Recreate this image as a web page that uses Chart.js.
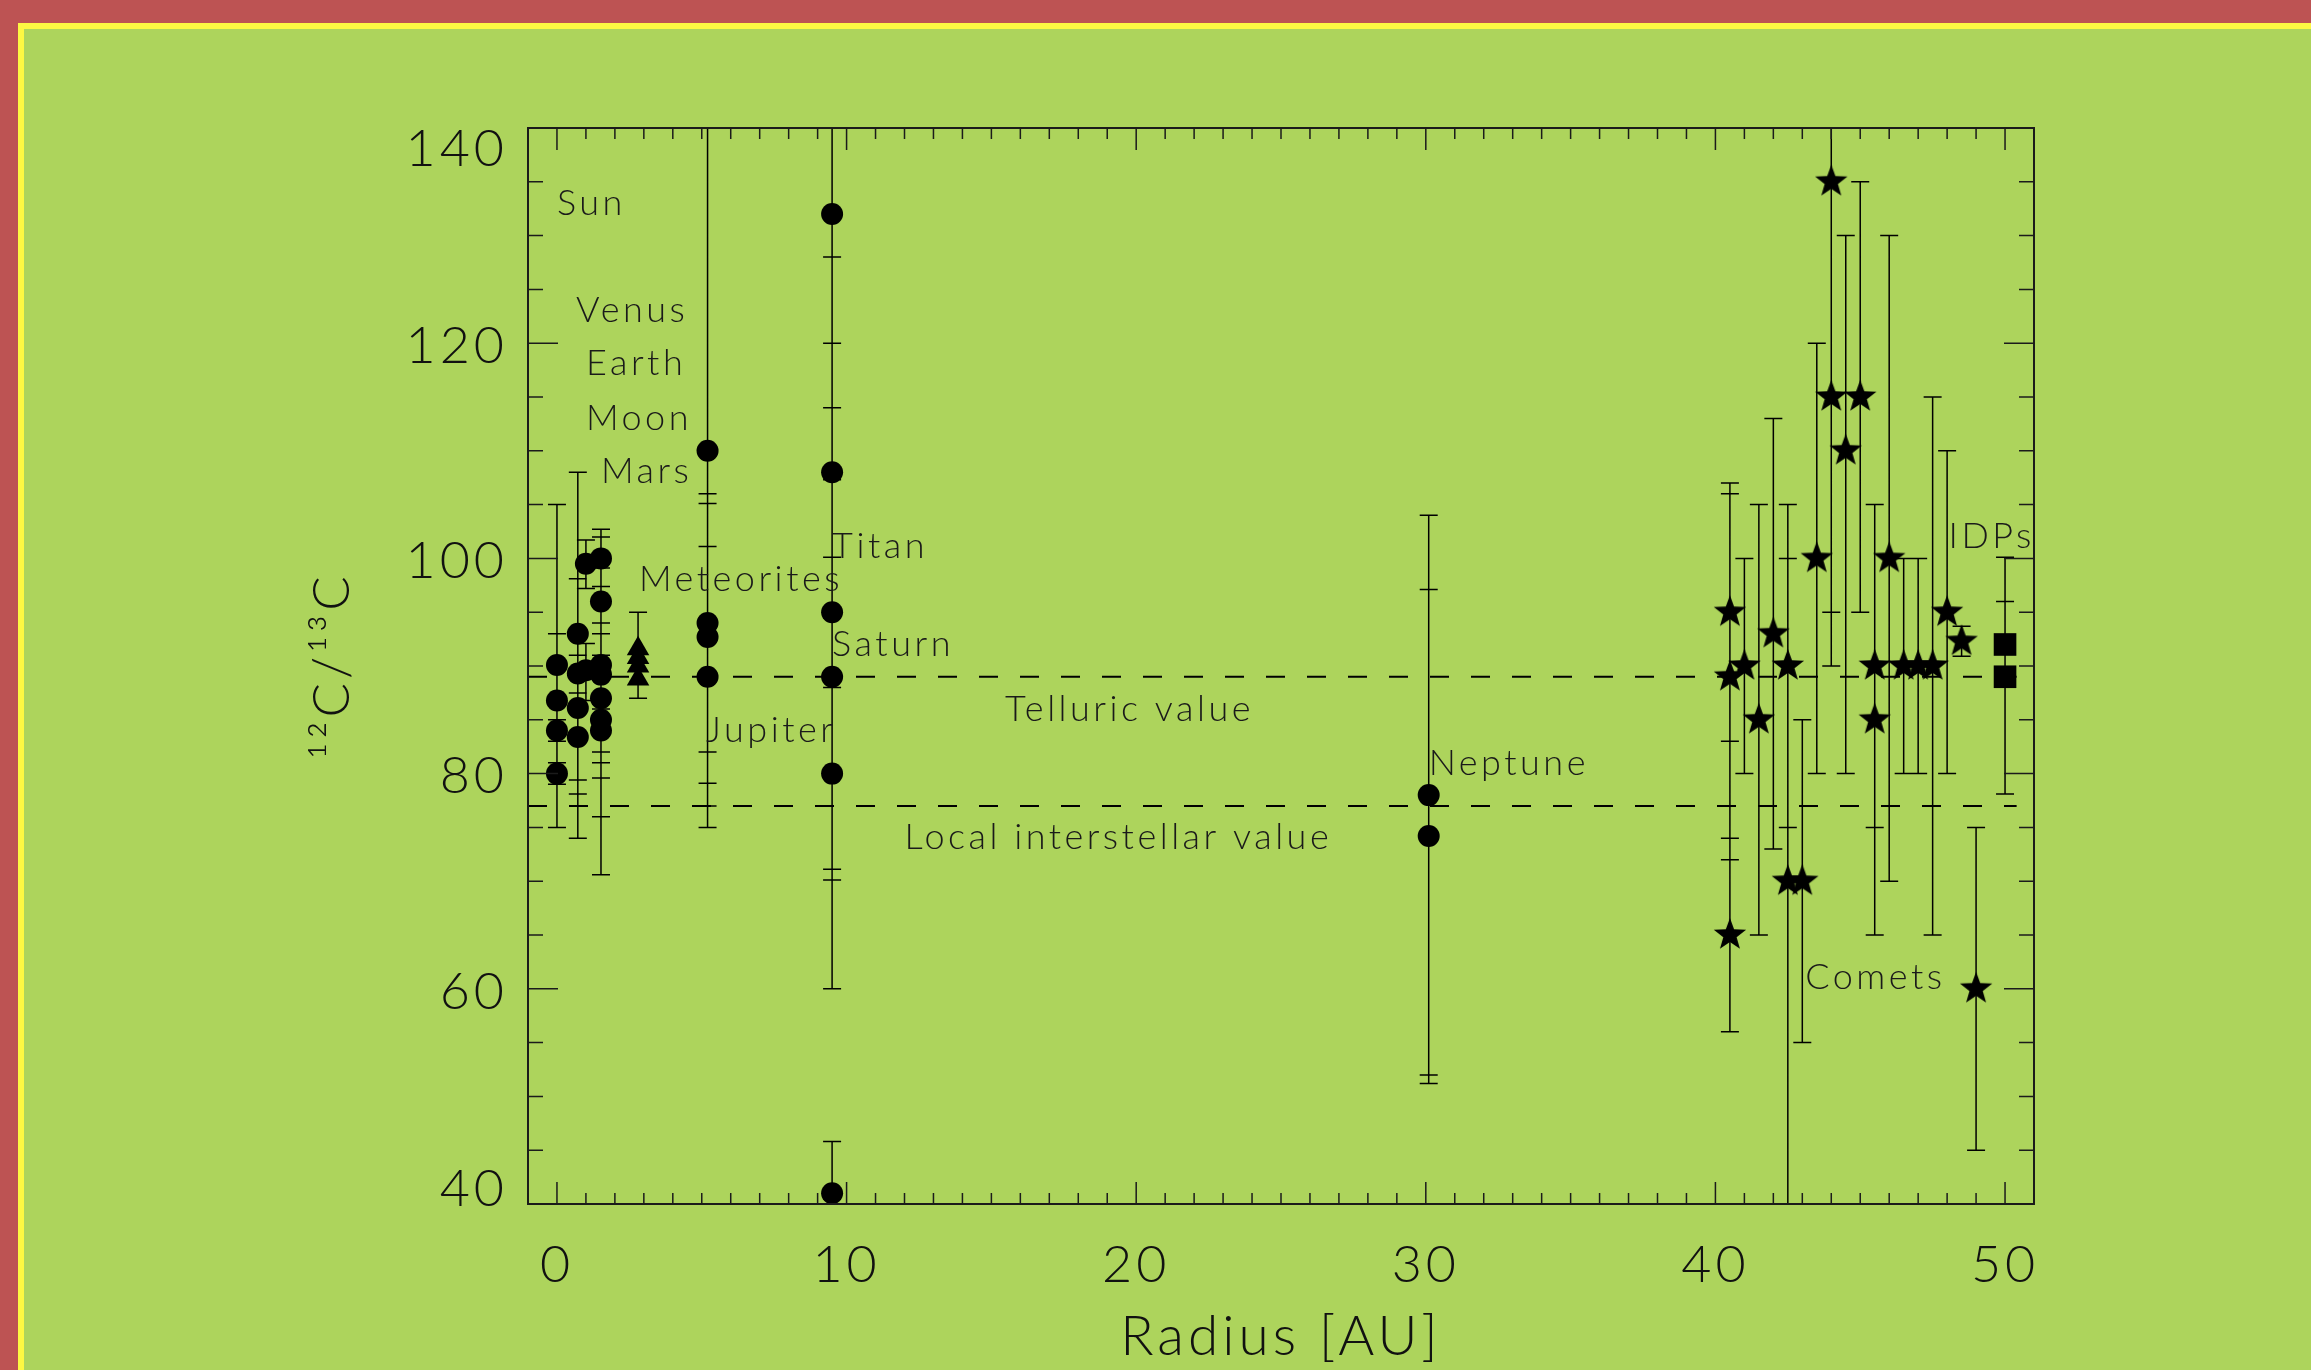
<!DOCTYPE html>
<html>
<head>
<meta charset="utf-8">
<script src="https://cdn.jsdelivr.net/npm/chart.js@4.4.1/dist/chart.umd.min.js"></script>
<style>
    html, body { margin: 0; padding: 0; }
    body { width: 2311px; height: 1370px; overflow: hidden; background: #bd5353; position: relative; }
    #panel { position: absolute; left: 18px; top: 23px; width: 2400px; height: 1500px; background: #add45c; border: 6px solid #fdf843; box-sizing: border-box; }
    #chart { position: absolute; left: 0; top: 0; }
</style>
</head>
<body>
<div id="panel"></div>
<canvas id="chart" width="2311" height="1370"></canvas>
<script>
// solar system bodies (circles): radius [AU], ratio, error low / high
const planetX = [0, 0, 0, 0, 0.72, 0.72, 0.72, 0.72, 1.0, 1.0,
    1.52, 1.52, 1.52, 1.52, 1.52, 1.52, 1.52,
    5.2, 5.2, 5.2, 5.2, 9.5, 9.5, 9.5, 9.5, 9.5, 9.5, 30.1, 30.1]
const planetY = [90.1, 86.8, 84.0, 80.0, 93.0, 89.3, 86.1, 83.4, 99.5, 89.6,
    100.0, 96.0, 90.1, 89.2, 87.0, 85.0, 84.0,
    110, 94.0, 92.7, 89.0, 132, 108, 95, 89, 80, 41, 78.0, 74.2]
const planetLo = [75, 81, 83, 79, 78.1, 79.4, 74.0, 79.4, 97.2, 86.8,
    97.4, 94.0, 79.6, 70.6, 81.0, 76.0, 82.0,
    75, 82.0, 79.1, 77.0, 120, 88, 70.1, 71.1, 60, 36, 52.0, 51.2]
const planetHi = [105, 93, 85, 81, 108, 98.1, 91.0, 87.5, 101.7, 92.1,
    102.7, 99.1, 102.0, 91.0, 93.0, 90.0, 86.0,
    145, 106.0, 105.1, 101.1, 145, 128, 114, 107.3, 100.1, 45.8, 104.0, 97.1]

// meteorites (triangles)
const meteoriteX = [2.8, 2.8, 2.8, 2.8]
const meteoriteY = [91.6, 90.8, 90.0, 88.8]
const meteoriteLo = [null, 87, null, null]
const meteoriteHi = [null, 95, null, null]

// comets (stars)
const cometX = [40.5, 40.5, 40.5, 41.0, 41.5, 42.0, 42.5, 42.5, 43.0, 43.5, 44.0, 44.0,
    44.5, 45.0, 45.5, 45.5, 46.0, 46.5, 47.0, 47.5, 48.0, 48.5, 49.0]
const cometY = [95, 89, 65, 90, 85, 93, 90, 70, 70, 100, 135, 115,
    110, 115, 90, 85, 100, 90, 90, 90, 95, 92.3, 60]
const cometLo = [83, 72, 56, 80, 65, 73, 75, 40, 55, 80, 95, 90,
    80, 95, 75, 65, 70, 80, 80, 65, 80, 90.9, 45]
const cometHi = [107, 106, 74, 100, 105, 113, 105, 100, 85, 120, 175, 140,
    130, 135, 105, 105, 130, 100, 100, 115, 110, 93.7, 75]

// interplanetary dust particles (squares)
const idpX = [50.0, 50.0]
const idpY = [92.0, 89.0]
const idpLo = [78.1, 88.5]
const idpHi = [100.1, 96.0]

// reference values
const telluricValue = 89
const interstellarValue = 77

// text labels inside the frame
const noteText = ['Sun', 'Venus', 'Earth', 'Moon', 'Mars', 'Meteorites', 'Jupiter', 'Titan', 'Saturn',
    'Telluric value', 'Local interstellar value', 'Neptune', 'IDPs', 'Comets']
const noteX = [0.0, 0.66, 1.0, 1.0, 1.52, 2.83, 5.15, 9.5, 9.5, 15.47, 12.0, 30.1, 48.05, 43.1]
const noteY = [131.9, 122, 117, 111.9, 107, 97, 82.9, 100, 90.9, 84.9, 73, 79.9, 101, 60]

const FONT = 'Lato'
const ink = '#111'

const toPoints = (xs, ys) => xs.map((x, i) => ({x, y: ys[i]}))

function makeStar(outer, inner) {
    const c = document.createElement('canvas')
    const size = Math.ceil(outer * 2 + 2)
    c.width = c.height = size
    const g = c.getContext('2d')
    g.translate(size / 2, size / 2)
    g.beginPath()
    for (let i = 0; i < 10; i++) {
        const r = i % 2 ? inner : outer
        const a = -Math.PI / 2 + i * Math.PI / 5
        g.lineTo(r * Math.cos(a), r * Math.sin(a))
    }
    g.closePath()
    g.fillStyle = '#000'
    g.fill()
    return c
}

const errorGroups = [
    {x: planetX, lo: planetLo, hi: planetHi},
    {x: meteoriteX, lo: meteoriteLo, hi: meteoriteHi},
    {x: cometX, lo: cometLo, hi: cometHi},
    {x: idpX, lo: idpLo, hi: idpHi},
]

// wider tracking, like the vector font of the original
const spacing = {
    id: 'letter-spacing',
    beforeUpdate(chart) { chart.ctx.letterSpacing = '4px' },
    beforeDraw(chart) { chart.ctx.letterSpacing = '4px' },
}

const errorBars = {
    id: 'error-bars',
    beforeDatasetsDraw(chart) {
        const {ctx, chartArea: a, scales: {x, y}} = chart
        ctx.save()
        ctx.beginPath()
        ctx.rect(a.left, a.top, a.width, a.height)
        ctx.clip()
        ctx.strokeStyle = '#000'
        ctx.lineWidth = 1.5
        ctx.beginPath()
        errorGroups.forEach(g => g.x.forEach((xv, i) => {
            if (g.lo[i] == null) return
            const px = x.getPixelForValue(xv)
            const top = y.getPixelForValue(g.hi[i])
            const bot = y.getPixelForValue(g.lo[i])
            ctx.moveTo(px, top); ctx.lineTo(px, bot)
            ctx.moveTo(px - 9, top); ctx.lineTo(px + 9, top)
            ctx.moveTo(px - 9, bot); ctx.lineTo(px + 9, bot)
        }))
        ctx.stroke()
        ctx.restore()
    },
}

const frame = {
    id: 'frame',
    afterDatasetsDraw(chart) {
        const {ctx, chartArea: a, scales: {x, y}} = chart
        ctx.save()
        ctx.strokeStyle = '#1b1b1b'
        ctx.lineWidth = 2
        ctx.strokeRect(a.left, a.top, a.width, a.height)
        ctx.lineWidth = 1.5
        ctx.beginPath()
        for (let v = Math.ceil(x.min); v <= x.max; v++) {
            const len = v % 10 === 0 ? 22 : 11
            const px = x.getPixelForValue(v)
            ctx.moveTo(px, a.bottom); ctx.lineTo(px, a.bottom - len)
            ctx.moveTo(px, a.top); ctx.lineTo(px, a.top + len)
        }
        for (let v = y.min; v <= y.max; v += 5) {
            const len = v % 20 === 0 ? 30 : 15
            const py = y.getPixelForValue(v)
            ctx.moveTo(a.left, py); ctx.lineTo(a.left + len, py)
            ctx.moveTo(a.right, py); ctx.lineTo(a.right - len, py)
        }
        ctx.stroke()

        // labels
        ctx.fillStyle = '#1a1a1a'
        ctx.font = `300 36px ${FONT}`
        ctx.textAlign = 'left'
        ctx.textBaseline = 'alphabetic'
        ctx.letterSpacing = '3.5px'
        noteText.forEach((t, i) => {
            ctx.fillText(t, x.getPixelForValue(noteX[i]), y.getPixelForValue(noteY[i]))
        })
        ctx.restore()
    },
}

const tickFont = {family: FONT, size: 52, weight: 300, lineHeight: 1}
const yTickFont = {family: FONT, size: 52, weight: 300, lineHeight: 0.69}
const titleFont = {family: FONT, size: 55, weight: 300, lineHeight: 1}

function draw() {
    const star = makeStar(17, 7)
    new Chart(document.getElementById('chart'), {
        type: 'scatter',
        data: {
            datasets: [
                {
                    type: 'line',
                    data: [{x: -1, y: telluricValue}, {x: 50.4, y: telluricValue}],
                    borderColor: '#000', borderWidth: 2, borderDash: [19, 22],
                    pointRadius: 0, fill: false,
                },
                {
                    type: 'line',
                    data: [{x: -1, y: interstellarValue}, {x: 50.4, y: interstellarValue}],
                    borderColor: '#000', borderWidth: 2, borderDash: [19, 22],
                    pointRadius: 0, fill: false,
                },
                {
                    data: toPoints(planetX, planetY),
                    pointStyle: 'circle', pointRadius: 11,
                    backgroundColor: '#000', borderWidth: 0, clip: 0,
                },
                {
                    data: toPoints(meteoriteX, meteoriteY),
                    pointStyle: 'triangle', pointRadius: 13,
                    backgroundColor: '#000', borderWidth: 0, clip: 0,
                },
                {
                    data: toPoints(cometX, cometY),
                    pointStyle: star, pointRadius: 17, clip: 0,
                },
                {
                    data: toPoints(idpX, idpY),
                    pointStyle: 'rect', pointRadius: 16,
                    backgroundColor: '#000', borderWidth: 0, clip: 0,
                },
            ],
        },
        options: {
            responsive: false,
            animation: false,
            devicePixelRatio: 1,
            layout: {padding: {left: 0, top: 128, right: 277, bottom: 0}},
            plugins: {
                legend: {display: false},
                tooltip: {enabled: false},
            },
            scales: {
                x: {
                    type: 'linear',
                    min: -1,
                    max: 51,
                    afterFit(scale) { scale.height = 166 },
                    grid: {display: false},
                    border: {display: false},
                    ticks: {stepSize: 10, includeBounds: false, padding: 27, color: ink, font: tickFont, maxRotation: 0},
                    title: {display: true, text: 'Radius [AU]', color: ink, font: titleFont, padding: {top: 0, bottom: 5}},
                },
                y: {
                    type: 'linear',
                    min: 40,
                    max: 140,
                    afterFit(scale) { scale.width = 528 },
                    grid: {display: false},
                    border: {display: false},
                    ticks: {
                        stepSize: 20, padding: 12, labelOffset: 3, color: ink, font: yTickFont,
                        // end labels sit inside the axis range, as in the original
                        callback(v) {
                            if (v === this.max) return ['', String(v)]
                            if (v === this.min) return [String(v), '']
                            return String(v)
                        },
                    },
                    title: {display: true, text: '¹²C/¹³C', color: ink, font: {...titleFont, size: 51}, padding: {top: 307, bottom: 0}},
                },
            },
        },
        plugins: [spacing, errorBars, frame],
    })
}

document.fonts.load(`300 52px ${FONT}`).then(draw, draw)
</script>
</body>
</html>
